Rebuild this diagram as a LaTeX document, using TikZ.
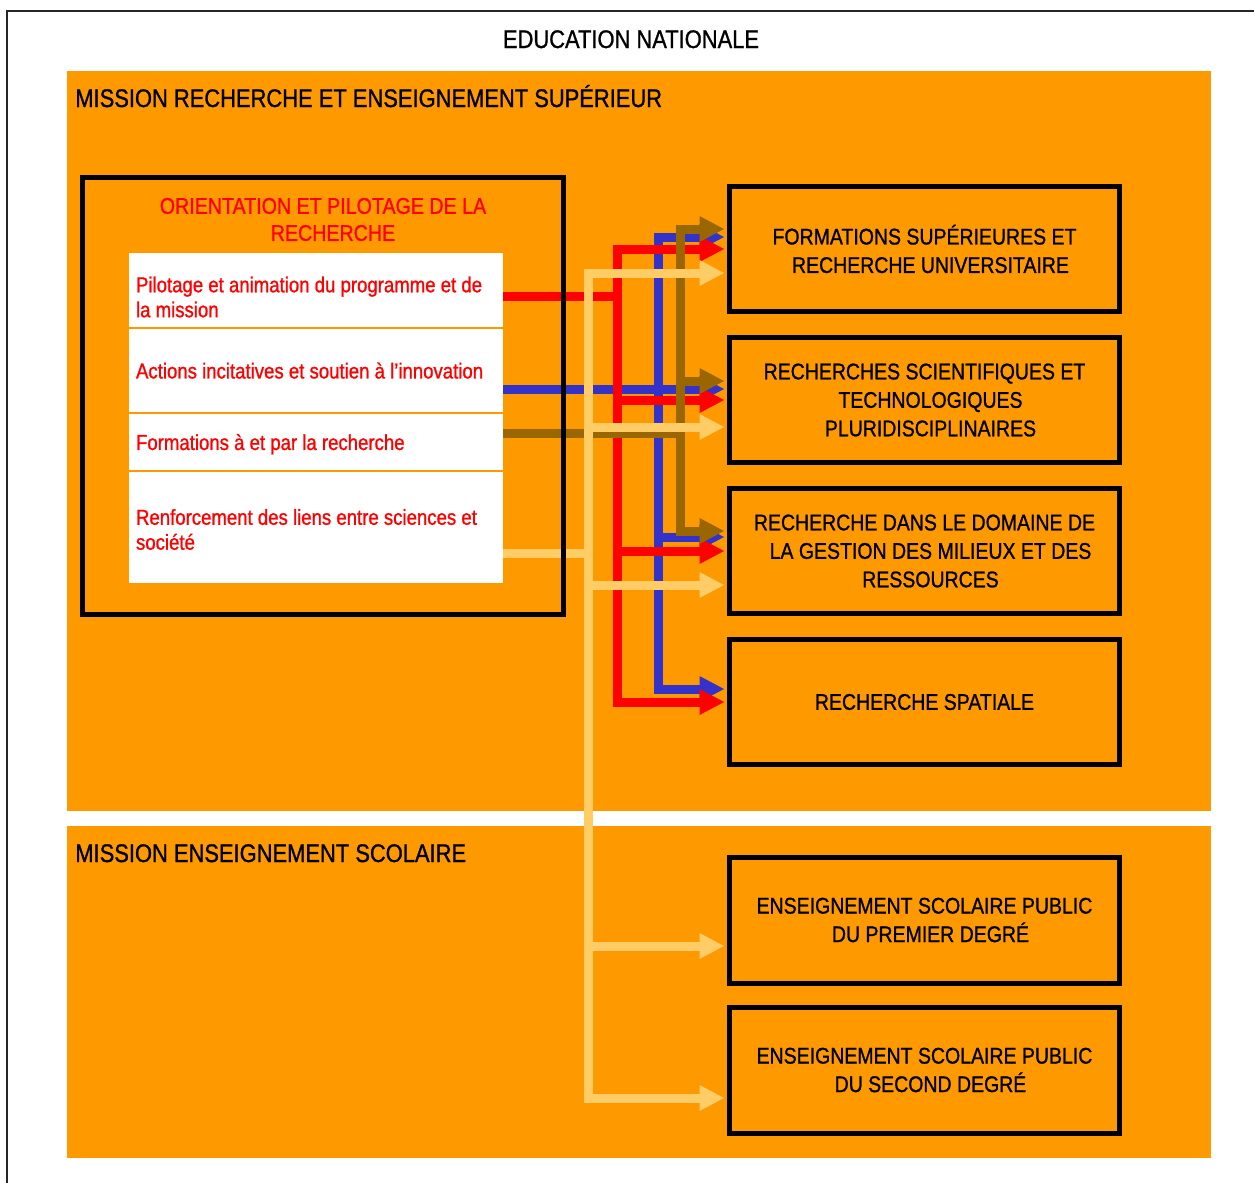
\documentclass[tikz,border=0pt]{standalone}
\usepackage{fontspec}
\setmainfont{Liberation Sans}[FakeStretch=0.86,FakeBold=1]
\usetikzlibrary{arrows.meta,calc}
\definecolor{fond}{HTML}{FF9900}
\definecolor{rouge}{HTML}{FF0000}
\definecolor{bleu}{HTML}{3333CC}
\definecolor{brun}{HTML}{996600}
\definecolor{clair}{HTML}{FFCC66}
\begin{document}
\begin{tikzpicture}[x=0.02cm,y=-0.02cm,>={Triangle[length=0.5cm,width=0.48cm]},
        flux/.style={->,line width=0.18cm,draw=#1},
        item/.style={fill=white,text=rouge,align=flush left,text width=7.2cm,inner xsep=0.14cm,inner ysep=0,minimum width=7.48cm,font=\fontsize{12.3}{14.2}\selectfont},
        cible/.style={draw=black,line width=0.1cm,minimum width=7.8cm,minimum height=2.52cm,align=center,font=\fontsize{12.9}{16.2}\selectfont},
        titre/.style={inner sep=0,font=\fontsize{14.5}{17}\selectfont}]
        \useasboundingbox (0,0) rectangle (1254,1183);
        \draw[line width=0.04cm,black!85] (7,1183) -- (7,11) -- (1254,11);
        \fill[fond] (67,71) rectangle (1211,811);
        \fill[fond] (67,826) rectangle (1211,1158);

        \node[titre,anchor=base] (edu) at (631,48) {EDUCATION NATIONALE};
        \node[titre,anchor=base west] (mrs) at (75,107) {MISSION RECHERCHE ET ENSEIGNEMENT SUPÉRIEUR};
        \node[titre,anchor=base west] (mes) at (75,862) {MISSION ENSEIGNEMENT SCOLAIRE};

        % actions du programme
        \node[item,minimum height=1.48cm] (pil) at (316,290) {Pilotage et animation du programme et de\\la mission\vspace*{-0.28cm}};
        \node[item,minimum height=1.66cm] (act) at (316,370.5) {Actions incitatives et soutien à l’innovation\vspace*{-0.3cm}};
        \node[item,minimum height=1.12cm] (frm) at (316,442) {Formations à et par la recherche\vspace*{-0.2cm}};
        \node[item,minimum height=2.22cm] (ren) at (316,527.5) {Renforcement des liens entre sciences et\\société\vspace*{-0.08cm}};

        % programmes
        \node[cible] (form) at (924.5,249) {FORMATIONS SUPÉRIEURES ET\\\hspace*{0.24cm}RECHERCHE UNIVERSITAIRE};
        \node[cible] (rech) at (924.5,400) {RECHERCHES SCIENTIFIQUES ET\\\hspace*{0.24cm}TECHNOLOGIQUES\\\hspace*{0.24cm}PLURIDISCIPLINAIRES};
        \node[cible] (gest) at (924.5,551) {RECHERCHE DANS LE DOMAINE DE\\\hspace*{0.24cm}LA GESTION DES MILIEUX ET DES\\\hspace*{0.24cm}RESSOURCES};
        \node[cible] (spat) at (924.5,702) {RECHERCHE SPATIALE};
        \node[cible] (prem) at (924.5,920) {ENSEIGNEMENT SCOLAIRE PUBLIC\\\hspace*{0.24cm}DU PREMIER DEGRÉ};
        \node[cible] (sec) at (924.5,1070) {ENSEIGNEMENT SCOLAIRE PUBLIC\\\hspace*{0.24cm}DU SECOND DEGRÉ};

        \foreach \b/\d in {form/-12,rech/-11,gest/-14,spat/-13}
            \draw[flux=bleu] ($(act.east)+(0,18.5)$) -- ++(155,0) |- ($(\b.west)+(-2.5,\d)$);
        \foreach \b/\d in {form/0,rech/0,gest/0,spat/0}
            \draw[flux=rouge] ($(pil.east)+(0,6)$) -- ++(114,0) |- ($(\b.west)+(-2.5,\d)$);
        \foreach \b/\d in {form/-20,rech/-19,gest/-20}
            \draw[flux=brun] ($(frm.east)+(0,-9)$) -- ++(177,0) |- ($(\b.west)+(-2.5,\d)$);
        \foreach \b/\d in {form/24,rech/27,gest/34,prem/26,sec/28}
            \draw[flux=clair] ($(ren.east)+(0,25.5)$) -- ++(85,0) |- ($(\b.west)+(-2.5,\d)$);

        \node[draw,line width=0.1cm,minimum width=9.63cm,minimum height=8.75cm] (cadre) at (323.25,396.25) {};
        \node[titre,text=rouge,align=center,font=\fontsize{13}{15.4}\selectfont] (orient) at (328,219.5) {ORIENTATION ET PILOTAGE DE LA\hspace*{0.2cm}\\\hspace*{0.2cm}RECHERCHE};
    \end{tikzpicture}
\end{document}
